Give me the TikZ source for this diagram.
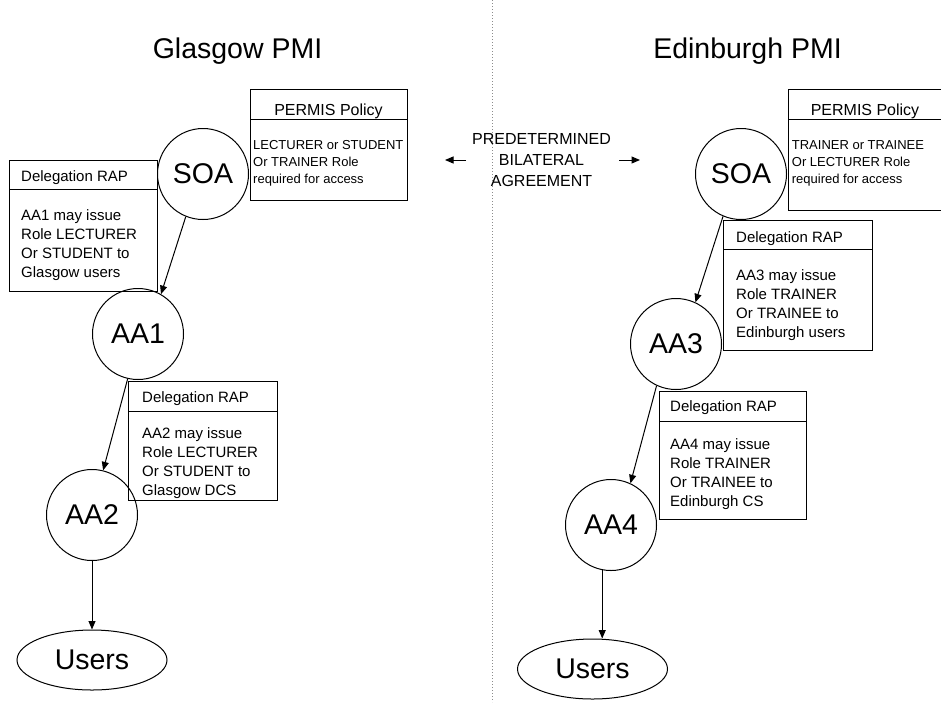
\documentclass[tikz,border=0pt]{standalone}
\usepackage{fontspec}
\setmainfont{Liberation Sans}
\usetikzlibrary{arrows.meta,shapes.geometric}
\tikzset{
  ln/.style={line width=1pt},
  circ/.style={ln, draw, circle, minimum size=91pt, inner sep=0pt, font=\fontsize{28.5}{30}\selectfont},
  usr/.style={ln, draw, ellipse, minimum width=150pt, minimum height=60pt, inner sep=0pt, font=\fontsize{28.5}{30}\selectfont},
  frame/.style={ln, draw, inner sep=0pt, anchor=north west},
  hdr/.style={inner sep=0pt, anchor=base west, font=\fontsize{15}{19}\selectfont},
  phdr/.style={inner sep=0pt, anchor=base, font=\fontsize{16}{19}\selectfont},
  bodytxt/.style={inner sep=0pt, anchor=north west, align=left, font=\fontsize{15}{19}\selectfont},
  poltxt/.style={inner sep=0pt, anchor=north west, align=left, font=\fontsize{13}{17}\selectfont},
  ttl/.style={inner sep=0pt, anchor=base, font=\fontsize{28.5}{30}\selectfont},
  arr/.style={ln, -{Triangle[length=8.5pt,width=7pt]}},
  sep/.style={line width=1pt, draw=black!45, dotted}
}
\begin{document}
\begin{tikzpicture}[x=1pt,y=-1pt]
\useasboundingbox (0,0) rectangle (941,702);
\clip (0,0) rectangle (941,702);
% divider
\coordinate (septop) at (492,0);
\coordinate (sepbot) at (492,702);
\draw[sep] (septop) -- (sepbot);

% titles
\node[ttl] (t1) at (237.5,58) {Glasgow PMI};
\node[ttl] (t2) at (747.5,58) {Edinburgh PMI};

% agreement
\node[inner sep=0pt, anchor=north, align=center, font=\fontsize{16}{21}\selectfont] (agree) at (541.5,133.3) {PREDETERMINED\\BILATERAL\\AGREEMENT};
\coordinate (la1) at (466,160);
\coordinate (la2) at (445,160);
\coordinate (ra1) at (619,160);
\coordinate (ra2) at (640,160);
\draw[arr] (la1) -- (la2);
\draw[arr] (ra1) -- (ra2);

% ---------- Glasgow ----------
\node[circ] (soa1) at (203,174) {SOA};
\node[circ] (aa1) at (138,334) {AA1};
\node[circ] (aa2) at (92,515) {AA2};
\node[usr] (users1) at (92,660) {Users};

% PERMIS policy left
\node[frame, minimum width=157pt, minimum height=111pt] (pol1) at (250,89) {};
\draw[ln] ([yshift=-30pt]pol1.north west) -- ([yshift=-30pt]pol1.north east);
\node[phdr] (pol1h) at (328.5,115) {PERMIS Policy};
\node[poltxt] (pol1b) at (253,140.4) {LECTURER or STUDENT\\Or TRAINER Role\\required for access};

% RAP 1 left
\node[frame, minimum width=148pt, minimum height=131pt] (rap1) at (9,160) {};
\draw[ln] ([yshift=-29pt]rap1.north west) -- ([yshift=-29pt]rap1.north east);
\node[hdr] (rap1h) at (21,181.7) {Delegation RAP};
\node[bodytxt] (rap1b) at (21,209.6) {AA1 may issue\\Role LECTURER\\Or STUDENT to\\Glasgow users};

% RAP 2 left
\node[frame, minimum width=149pt, minimum height=119pt] (rap2) at (128,381) {};
\draw[ln] ([yshift=-30pt]rap2.north west) -- ([yshift=-30pt]rap2.north east);
\node[hdr] (rap2h) at (142,402.7) {Delegation RAP};
\node[bodytxt] (rap2b) at (142,427.6) {AA2 may issue\\Role LECTURER\\Or STUDENT to\\Glasgow DCS};

\draw[arr] (soa1.248.6) -- (aa1.60.6);
\draw[arr] (aa1.257.7) -- (aa2.76.8);
\draw[arr] (aa2.south) -- (users1.north);

% ---------- Edinburgh ----------
\node[circ] (soa2) at (741,174) {SOA};
\node[circ] (aa3) at (676,344) {AA3};
\node[circ] (aa4) at (611,525) {AA4};
\node[usr] (users2) at (592.5,669) {Users};

% PERMIS policy right
\node[frame, minimum width=172pt, minimum height=121pt] (pol2) at (788,89) {};
\draw[ln] ([yshift=-30pt]pol2.north west) -- ([yshift=-30pt]pol2.north east);
\node[phdr] (pol2h) at (865,115) {PERMIS Policy};
\node[poltxt] (pol2b) at (791.7,140.4) {TRAINER or TRAINEE\\Or LECTURER Role\\required for access};

% RAP 1 right
\node[frame, minimum width=149pt, minimum height=130pt] (rap3) at (723,220) {};
\draw[ln] ([yshift=-29pt]rap3.north west) -- ([yshift=-29pt]rap3.north east);
\node[hdr] (rap3h) at (736,242.7) {Delegation RAP};
\node[bodytxt] (rap3b) at (736,269.6) {AA3 may issue\\Role TRAINER\\Or TRAINEE to\\Edinburgh users};

% RAP 2 right
\node[frame, minimum width=147pt, minimum height=128pt] (rap4) at (659,391) {};
\draw[ln] ([yshift=-30pt]rap4.north west) -- ([yshift=-30pt]rap4.north east);
\node[hdr] (rap4h) at (670,411.7) {Delegation RAP};
\node[bodytxt] (rap4b) at (670,438.6) {AA4 may issue\\Role TRAINER\\Or TRAINEE to\\Edinburgh CS};

\draw[arr] (soa2.247.6) -- (aa3.65.5);
\draw[arr] (aa3.245) -- (aa4.65.9);
\draw[arr] (aa4.259.9) -- (aa4.259.9 |- users2.north);
\end{tikzpicture}
\end{document}
